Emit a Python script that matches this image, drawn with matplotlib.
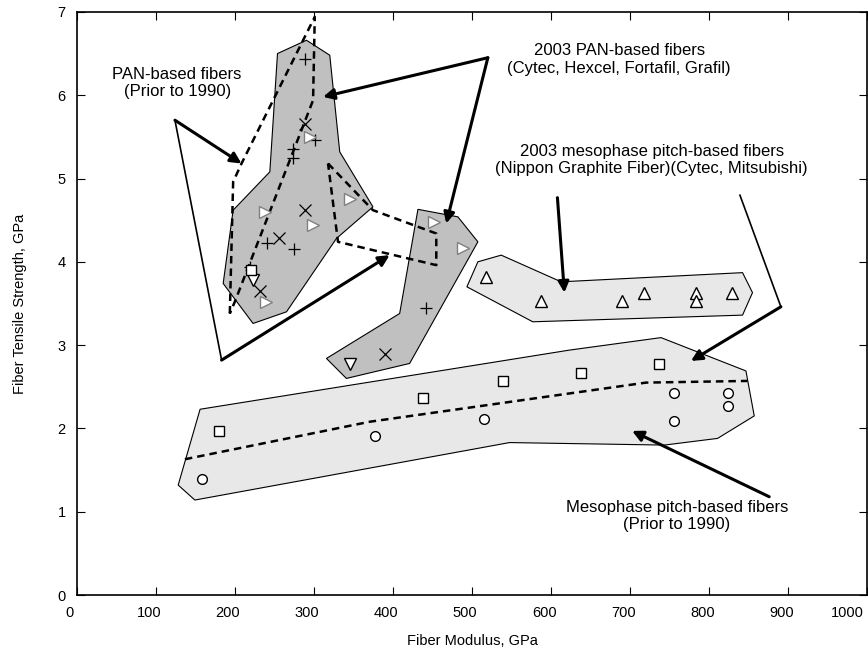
import numpy as np
import matplotlib
matplotlib.use("Agg")
import matplotlib.pyplot as plt
import matplotlib.transforms as mtransforms
from matplotlib.patches import Polygon

plt.rcParams.update({"font.family": ["Liberation Sans", "DejaVu Sans"], "font.size": 10})

DARK, LIGHT = "#c0c0c0", "#e8e8e8"

# ---- shaded regions (modulus GPa, strength GPa) ----
pan03_a_x = [253.9, 290.5, 320, 332.6, 374.6, 328.4, 265.3, 223, 185.2, 197.8, 244.2]
pan03_a_y = [6.50, 6.66, 6.48, 5.32, 4.66, 4.28, 3.40, 3.26, 3.74, 4.62, 5.08]
pan03_b_x = [431.5, 482, 507.3, 421, 341, 315.8, 408.4]
pan03_b_y = [4.63, 4.54, 4.24, 2.78, 2.60, 2.84, 3.38]
meso03_x = [507.3, 536.8, 612.6, 842, 854.6, 842, 576.7, 493.4]
meso03_y = [4.00, 4.08, 3.76, 3.87, 3.63, 3.36, 3.28, 3.70]
meso90_x = [156, 623, 738.9, 846.3, 856.8, 810.4, 743.1, 547.3, 149.4, 128.3]
meso90_y = [2.23, 2.94, 3.09, 2.69, 2.15, 1.88, 1.80, 1.83, 1.14, 1.32]

# ---- dashed outlines / trend ----
pan90_a_x = [193.6, 197.8, 208.4, 301, 298.9, 199.9, 193.6]
pan90_a_y = [3.38, 4.96, 5.18, 6.94, 5.94, 3.52, 3.38]
pan90_b_x = [317.8, 374.6, 454.7, 454.7, 330.4, 317.8]
pan90_b_y = [5.18, 4.62, 4.34, 3.96, 4.24, 5.18]
meso_trend_x = [136.8, 370.5, 720, 848.3]
meso_trend_y = [1.63, 2.08, 2.55, 2.57]

# ---- data points ----
plus_x = [289.3, 273.6, 273.6, 301, 240, 274.9, 218.9, 441.2]
plus_y = [6.43, 5.36, 5.25, 5.46, 4.23, 4.15, 3.94, 3.45]
cross_x = [289.3, 289.3, 255.5, 231.5, 389.4]
cross_y = [5.66, 4.62, 4.29, 3.65, 2.89]
rtri_x = [295.6, 237.8, 298.9, 345.2, 239.1, 451.7, 488.3]
rtri_y = [5.50, 4.60, 4.44, 4.75, 3.52, 4.48, 4.16]
dtri_x = [222.3, 345.2]
dtri_y = [3.78, 2.77]
utri_x = [517.9, 587.3, 689.2, 717.8, 783.1, 783.1, 828.6]
utri_y = [3.82, 3.53, 3.53, 3.63, 3.63, 3.53, 3.63]
sq_x = [221, 179.7, 437.8, 538.8, 637.9, 736.8]
sq_y = [3.90, 1.97, 2.37, 2.57, 2.66, 2.77]
circ_x = [157.9, 377.7, 514.5, 755.7, 755.7, 823, 823]
circ_y = [1.39, 1.91, 2.11, 2.42, 2.09, 2.43, 2.27]

# ---- annotations: (text, x, y) and leader lines ----
labels = [
    ("PAN-based fibers\n(Prior to 1990)", 127, 6.15),
    ("2003 PAN-based fibers\n(Cytec, Hexcel, Fortafil, Grafil)", 686, 6.43),
    ("2003 mesophase pitch-based fibers\n(Nippon Graphite Fiber)(Cytec, Mitsubishi)", 727, 5.22),
    ("Mesophase pitch-based fibers\n(Prior to 1990)", 759, 0.95),
]
# thick arrows: start -> tip
arrows = [
    ((124.2, 5.70), (208.4, 5.18)),
    ((183.2, 2.82), (395.7, 4.08)),
    ((519.9, 6.45), (311.5, 5.98)),
    ((519.9, 6.45), (467.3, 4.46)),
    ((607.9, 4.77), (616.7, 3.63)),
    ((890.5, 3.46), (776.8, 2.81)),
    ((875.7, 1.18), (702.3, 1.97)),
]
# thin leader lines
thin_x = [[124.2, 183.2], [838.7, 890.5]]
thin_y = [[5.70, 2.82], [4.80, 3.46]]

fig = plt.figure(figsize=(8.68, 6.51), dpi=100)
ax = fig.add_axes([0.0884, 0.086, 0.911, 0.8957])

for px, py, fc in [(meso90_x, meso90_y, LIGHT), (meso03_x, meso03_y, LIGHT),
                   (pan03_a_x, pan03_a_y, DARK), (pan03_b_x, pan03_b_y, DARK)]:
    ax.add_patch(Polygon(np.column_stack([px, py]), closed=True, fc=fc, ec="black", lw=0.8, zorder=1))

dash = dict(color="black", lw=1.8, ls=(0, (3, 2)), zorder=3)
ax.plot(pan90_a_x, pan90_a_y, **dash)
ax.plot(pan90_b_x, pan90_b_y, **dash)
ax.plot(meso_trend_x, meso_trend_y, **dash)

ax.plot(plus_x, plus_y, "+", color="black", ms=8, mew=0.9, ls="none", zorder=4)
ax.plot(cross_x, cross_y, "x", color="black", ms=9, mew=0.9, ls="none", zorder=4)
ax.plot(rtri_x, rtri_y, ">", mfc="white", mec="#808080", ms=9, mew=1.0, ls="none", zorder=4)
ax.plot(dtri_x, dtri_y, "v", mfc="white", mec="black", ms=9, mew=1.0, ls="none", zorder=4)
ax.plot(utri_x, utri_y, "^", mfc="white", mec="black", ms=9, mew=1.0, ls="none", zorder=4)
ax.plot(sq_x, sq_y, "s", mfc="white", mec="black", ms=7, mew=1.0, ls="none", zorder=4)
ax.plot(circ_x, circ_y, "o", mfc="white", mec="black", ms=7, mew=1.0, ls="none", zorder=4)

for lx, ly in zip(thin_x, thin_y):
    ax.plot(lx, ly, color="black", lw=1.2, zorder=5)
for (x0, y0), (x1, y1) in arrows:
    ax.annotate("", xy=(x1, y1), xytext=(x0, y0), zorder=5,
                arrowprops=dict(arrowstyle="-|>", color="black", lw=2.2,
                                mutation_scale=16, shrinkA=0, shrinkB=0))
for txt, tx, ty in labels:
    ax.text(tx, ty, txt, ha="center", va="center", fontsize=12, linespacing=1.2, zorder=6)

ax.set_xlim(0, 1000)
ax.set_ylim(0, 7)
ax.set_xticks(np.arange(0, 1001, 100))
ax.set_yticks(np.arange(0, 8, 1))
ax.tick_params(direction="in", top=True, right=True, length=6, labelsize=10.5, pad=8)
ax.set_xlabel("Fiber Modulus, GPa", fontsize=10.5, labelpad=10)
ax.set_ylabel("Fiber Tensile Strength, GPa", fontsize=10.5, labelpad=22)
for s in ax.spines.values():
    s.set_linewidth(1.2)

# tick labels in the original sit a little left of their ticks
xlabels = ax.get_xticklabels()
for i, lab in enumerate(xlabels):
    dx = -20 if i == len(xlabels) - 1 else -7
    shift = mtransforms.ScaledTranslation(dx / 100, 0, fig.dpi_scale_trans)
    lab.set_transform(lab.get_transform() + shift)

fig.savefig("out.png", dpi=100)
